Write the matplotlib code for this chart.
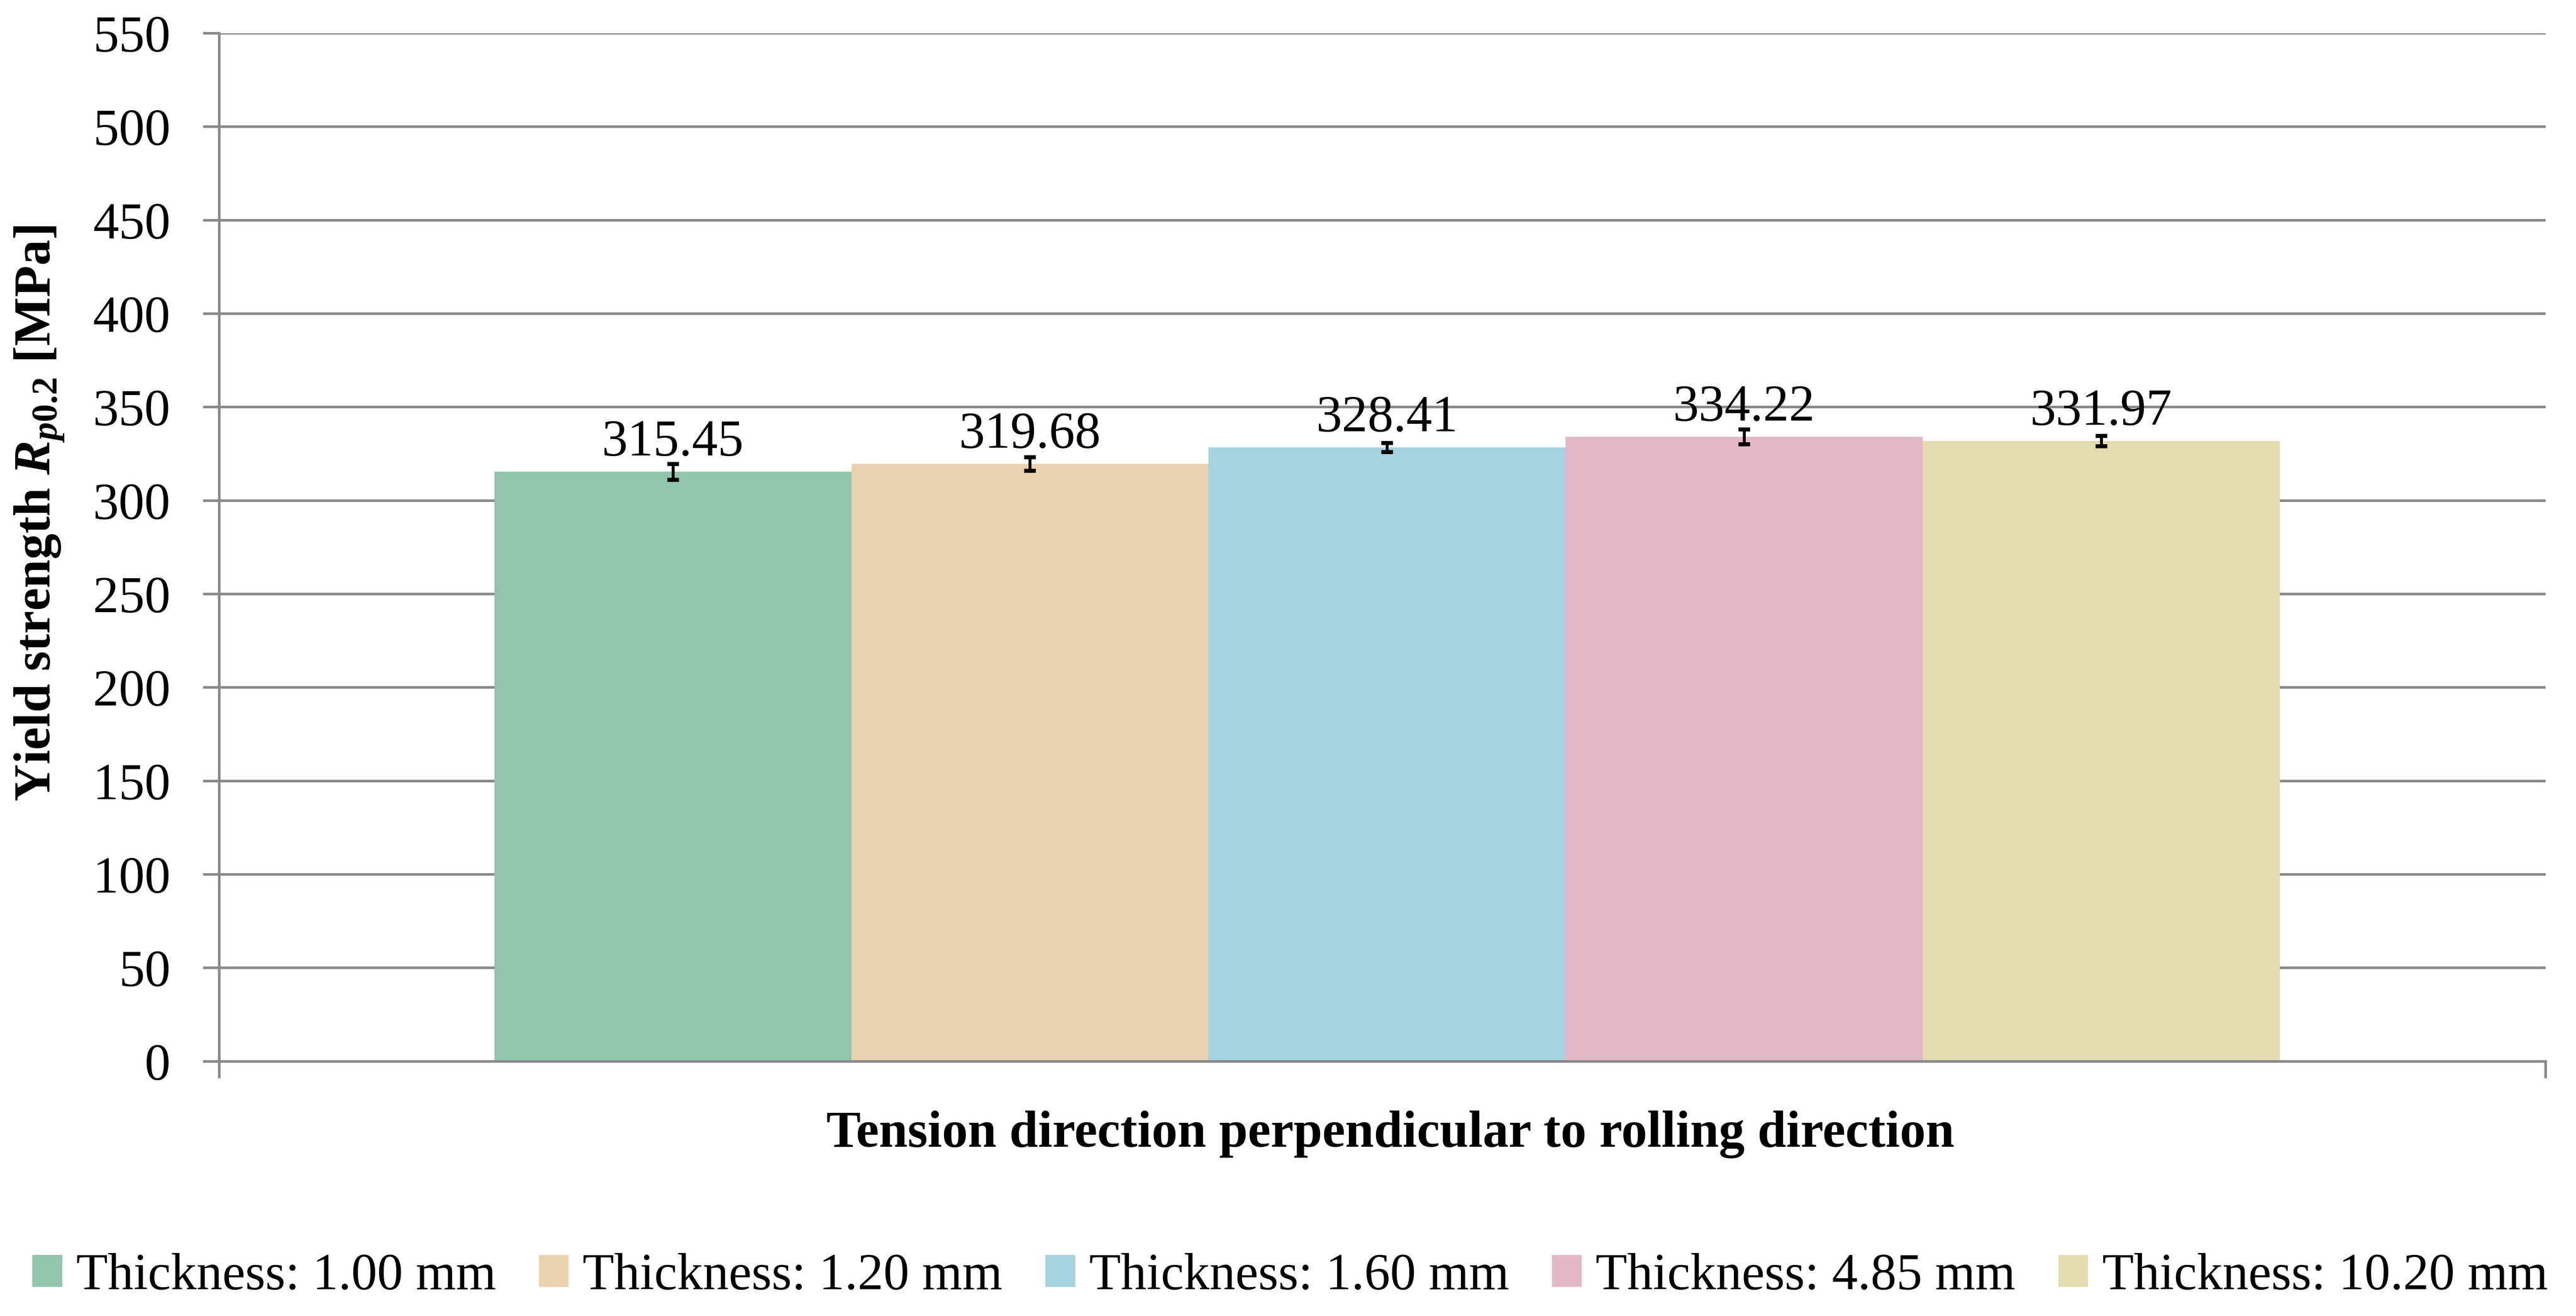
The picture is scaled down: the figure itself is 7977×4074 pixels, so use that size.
import matplotlib
matplotlib.use("Agg")
import matplotlib.pyplot as plt
import numpy as np

plt.rcParams['font.family'] = ['Liberation Serif', 'DejaVu Serif']
plt.rcParams['mathtext.fontset'] = 'custom'
plt.rcParams['mathtext.it'] = 'Liberation Serif:italic:bold'
plt.rcParams['mathtext.rm'] = 'Liberation Serif:bold'

# data
thickness_labels = ["Thickness: 1.00 mm", "Thickness: 1.20 mm", "Thickness: 1.60 mm",
                    "Thickness: 4.85 mm", "Thickness: 10.20 mm"]
yield_strength = [315.45, 319.68, 328.41, 334.22, 331.97]
yield_err = [4.2, 3.6, 2.4, 4.0, 2.8]
bar_colors = ["#92C5AB", "#EAD1B0", "#A5D3DF", "#E4B7C8", "#E4DBB1"]
category = "Tension direction perpendicular to rolling direction"
yticks = np.arange(0, 551, 50)

grid_col = "#898989"
fs = 23

fig = plt.figure(figsize=(7977/500, 4074/500), dpi=500)
ax = fig.add_axes([0.0851, 0.1935, 0.9882 - 0.0851, 0.9747 - 0.1935])

n = len(yield_strength)
w = 0.1535
xs = (np.arange(n) - (n - 1) / 2) * w + 0.002
handles = []
for i in range(n):
    b = ax.bar(xs[i], yield_strength[i], width=w, color=bar_colors[i], label=thickness_labels[i], zorder=2)
    handles.append(b)
    ax.errorbar(xs[i], yield_strength[i], yerr=yield_err[i], fmt='none', ecolor='black',
                elinewidth=1.3, capsize=2.6, capthick=1.8, zorder=3)
    ax.annotate(f"{yield_strength[i]:.2f}", (xs[i], yield_strength[i]), xytext=(0, 7.2),
                textcoords='offset points', ha='center', va='baseline', fontsize=fs)

ax.set_xlim(-0.5, 0.5)
ax.set_ylim(0, 550)
ax.set_yticks(yticks)
ax.set_yticklabels([str(v) for v in yticks], fontsize=fs)
ax.set_xticks([-0.5, 0.5])
ax.set_xticklabels([])
ax.yaxis.grid(True, color=grid_col, linewidth=1.15, zorder=0)
ax.set_axisbelow(True)
for s in ['top', 'right']:
    ax.spines[s].set_visible(False)
for s in ['left', 'bottom']:
    ax.spines[s].set_color(grid_col)
    ax.spines[s].set_linewidth(1.15)
ax.tick_params(axis='y', length=7.2, width=1.15, color=grid_col, pad=14.5)
ax.tick_params(axis='x', length=7.5, width=1.15, color=grid_col)

ax.set_ylabel(r"Yield strength $\mathit{R}_{\mathit{p0.2}}$ [MPa]", fontsize=fs, fontweight='bold')
ax.yaxis.set_label_coords(-0.066, 0.533)

fig.text(0.5397, 0.138, category, ha='center', va='center', fontsize=fs, fontweight='bold')

fig.legend(handles=handles, labels=thickness_labels, loc='center', bbox_to_anchor=(0.5008, 0.030),
           ncol=5, frameon=False, fontsize=fs, handlelength=0.58, handleheight=0.58,
           handletextpad=0.27, columnspacing=0.83, borderaxespad=0)

fig.savefig("out.png", dpi=500)
